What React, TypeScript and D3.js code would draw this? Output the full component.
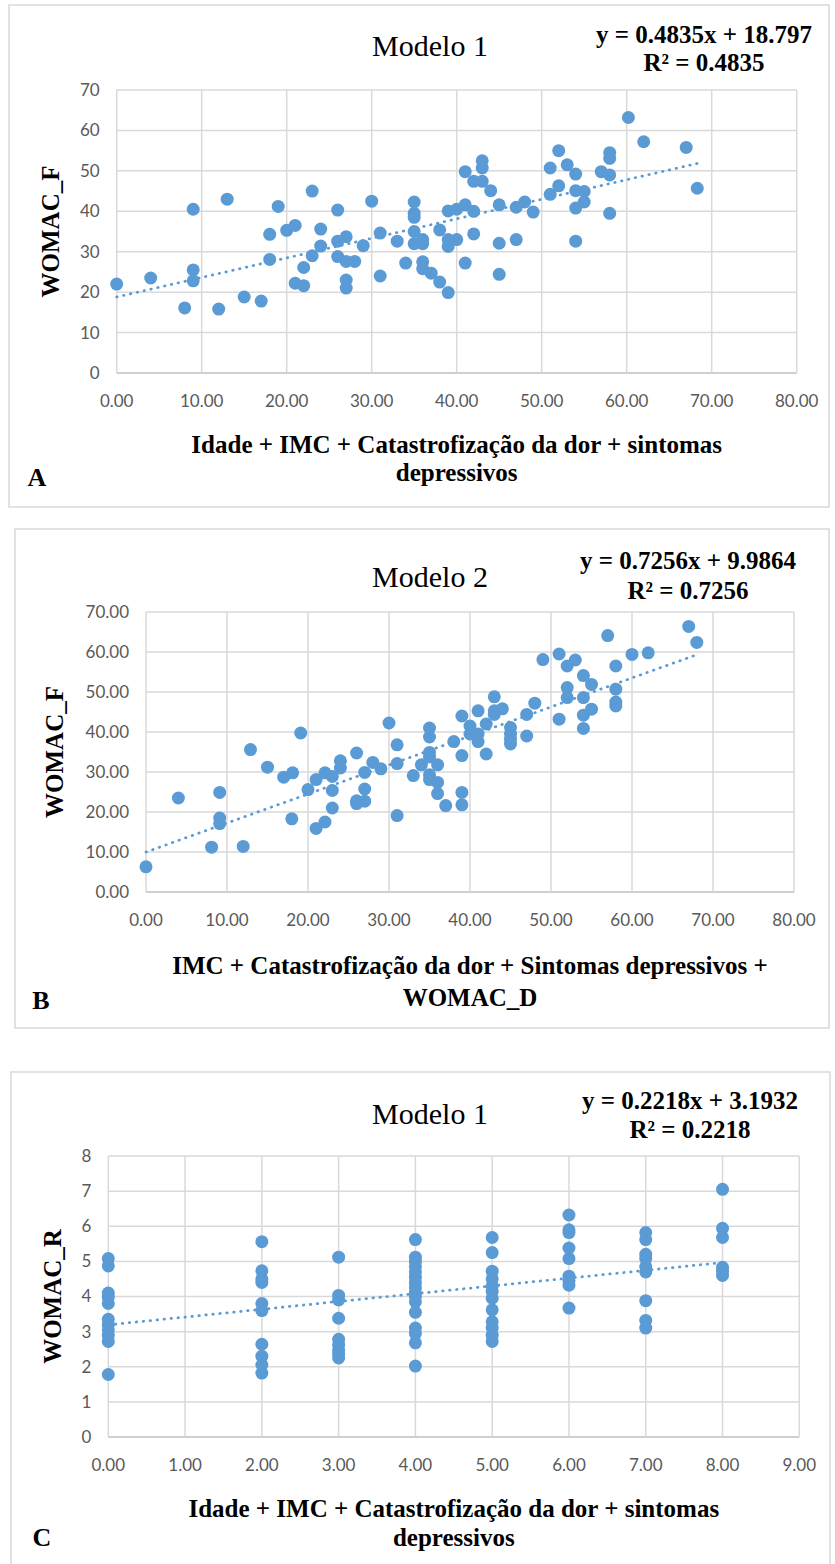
import React from "react";
import * as d3 from "d3";

// ---- data ----
// Panel A: Modelo 1, WOMAC_F
const pointsA = [
  [0, 22], [4, 23.5], [8, 16.1], [9, 40.5], [9, 25.5], [9, 22.8], [12, 15.8], [13, 43],
  [15, 18.8], [17, 17.8], [18, 34.3], [18, 28.1], [19, 41.2], [20, 35.3], [21, 36.5], [21, 22.2],
  [22, 21.6], [22, 26.1], [23, 45], [23, 29], [24, 35.6], [24, 31.4], [26, 40.3], [26, 32.6],
  [26, 28.8], [27, 33.7], [27, 27.6], [27, 23], [27, 21], [28, 27.6], [29, 31.5], [30, 42.5],
  [31, 34.6], [31, 24], [33, 32.6], [34, 27.2], [35, 42.3], [35, 39.5], [35, 38.5], [35, 35],
  [35, 32], [36, 33], [36, 32], [36, 27.5], [36, 25.8], [37, 24.7], [38, 35.4], [38, 22.5],
  [39, 19.9], [39, 40.1], [39, 33], [39, 31.3], [40, 33], [40, 40.5], [41, 49.8], [41, 41.6],
  [41, 27.2], [42, 47.4], [42, 40], [42, 34.4], [43, 52.5], [43, 50.7], [43, 47.4], [44, 45.1],
  [45, 41.6], [45, 32.1], [45, 24.4], [47, 41], [47, 33], [48, 42.3], [49, 39.8], [51, 50.7],
  [51, 44.2], [52, 55], [52, 46.3], [53, 51.5], [54, 49.2], [54, 45.1], [54, 40.8], [54, 32.6],
  [55, 44.9], [55, 42.3], [57, 49.8], [58, 54.5], [58, 53.1], [58, 49], [58, 39.5], [60.2, 63.2],
  [62, 57.2], [67, 55.8], [68.3, 45.7],
];

// Panel B: Modelo 2, WOMAC_F
const pointsB = [
  [0, 6.3], [4, 23.5], [9.1, 24.9], [9.1, 18.5], [9.1, 17.1], [8.1, 11.2], [12, 11.4], [12.9, 35.6],
  [15, 31.2], [17, 28.7], [18.1, 29.8], [18, 18.3], [19.1, 39.75], [20, 25.6], [21, 28.1], [21, 15.9],
  [22.1, 29.8], [22.1, 17.5], [23, 28.9], [23, 25.4], [23, 21], [24, 32.8], [24, 31], [26, 34.75],
  [26, 22.8], [26, 22.1], [27, 29.9], [27, 25.75], [27, 22.7], [28, 32.4], [29, 30.8], [30, 42.25],
  [31, 36.8], [31, 32.1], [31, 19.1], [33, 29.1], [34, 31.8], [35, 41], [35, 38.75], [35, 34.9],
  [35, 33.75], [35, 29.3], [35, 28.1], [36, 31.8], [36, 27.4], [36, 24.6], [37, 21.6], [39, 24.9],
  [39, 21.8], [38, 37.6], [39, 34.1], [39, 44], [40, 41.5], [40, 39.5], [41, 45.3], [41, 39.5],
  [41, 37.6], [42, 42], [42, 34.5], [43, 48.8], [43, 45.3], [43, 44.4], [44, 45.8], [45, 41.1],
  [45, 39.5], [45, 38.2], [45, 37], [47, 44.4], [47, 39], [48, 47.2], [49, 58.1], [51, 59.5],
  [51, 43.2], [52, 56.5], [53, 58], [52, 51.1], [52, 48.6], [54, 54.1], [54, 48.6], [54, 44.2],
  [54, 40.9], [55, 51.9], [55, 45.7], [57, 64.1], [58, 56.5], [58, 50.7], [58, 47.5], [58, 46.5],
  [60, 59.4], [62, 59.8], [67, 66.4], [68, 62.4],
];

// Panel C: Modelo 1, WOMAC_R
const pointsC = [
  [0, 5.08], [0, 4.87], [0, 4.1], [0, 3.98], [0, 3.8], [0, 3.35], [0, 3.2], [0, 3.05], [0, 2.9], [0, 2.72], [0, 1.78],
  [2, 5.56], [2, 4.73], [2, 4.5], [2, 4.4], [2, 3.8], [2, 3.6], [2, 2.64], [2, 2.3], [2, 2.05], [2, 1.82],
  [3, 5.12], [3, 4.03], [3, 3.9], [3, 3.38], [3, 2.78], [3, 2.62], [3, 2.47], [3, 2.35], [3, 2.25],
  [4, 5.62], [4, 5.12], [4, 5.0], [4, 4.85], [4, 4.7], [4, 4.55], [4, 4.4], [4, 4.25], [4, 4.1],
  [4, 4.0], [4, 3.85], [4, 3.55], [4, 3.1], [4, 2.95], [4, 2.68], [4, 2.02],
  [5, 5.68], [5, 5.25], [5, 4.72], [5, 4.5], [5, 4.3], [5, 4.15], [5, 3.95], [5, 3.62], [5, 3.28], [5, 3.1], [5, 2.9], [5, 2.72],
  [6, 6.32], [6, 5.9], [6, 5.82], [6, 5.38], [6, 5.08], [6, 4.58], [6, 4.45], [6, 4.32], [6, 3.67],
  [7, 5.82], [7, 5.62], [7, 5.2], [7, 5.08], [7, 4.85], [7, 4.7], [7, 3.88], [7, 3.32], [7, 3.1],
  [8, 7.05], [8, 5.94], [8, 5.68], [8, 4.83], [8, 4.72], [8, 4.6],
];

// trendlines (from the printed equations)
const trendA = { slope: 0.4835, intercept: 18.797, r2: 0.4835 };
const trendB = { slope: 0.7256, intercept: 9.9864, r2: 0.7256 };
const trendC = { slope: 0.2218, intercept: 3.1932, r2: 0.2218 };

const ticks80 = [0, 10, 20, 30, 40, 50, 60, 70, 80];
const ticks70 = [0, 10, 20, 30, 40, 50, 60, 70];
const ticks9 = [0, 1, 2, 3, 4, 5, 6, 7, 8, 9];
const ticks8 = [0, 1, 2, 3, 4, 5, 6, 7, 8];

const titles = ["Modelo 1", "Modelo 2", "Modelo 1"];
const yTitles = ["WOMAC_F", "WOMAC_F", "WOMAC_R"];
const xTitlesA = ["Idade + IMC + Catastrofização da dor + sintomas", "depressivos"];
const xTitlesB = ["IMC + Catastrofização da dor + Sintomas depressivos +", "WOMAC_D"];
const xTitlesC = ["Idade + IMC + Catastrofização da dor + sintomas", "depressivos"];
const letters = ["A", "B", "C"];

const BLUE = "#5B9BD5";
const GRID = "#D9D9D9";
const TICK = "#595959";
const SERIF = "'Liberation Serif', 'Times New Roman', serif";
const SANS = "Lato, 'Liberation Sans', sans-serif";

const f2 = d3.format(".2f");
const f0 = d3.format("d");

const panels = [
  {
    box: [9, 5, 820, 502], plot: [116.7, 796.7, 90, 373],
    xDomain: [0, 80], yDomain: [0, 70], xTicks: ticks80, yTicks: ticks70, yFmt: f0,
    points: pointsA, trend: trendA, title: titles[0], yTitle: yTitles[0], xTitle: xTitlesA,
    letter: letters[0], titleY: 45, eqX: 704, eqY: [34, 62], xtY: [444, 472], letterXY: [37, 477], ytX: 50,
  },
  {
    box: [15, 529, 814, 499], plot: [146, 794, 612, 892],
    xDomain: [0, 80], yDomain: [0, 70], xTicks: ticks80, yTicks: ticks70, yFmt: f2,
    points: pointsB, trend: trendB, title: titles[1], yTitle: yTitles[1], xTitle: xTitlesB,
    letter: letters[1], titleY: 576, eqX: 688, eqY: [560, 590], xtY: [965, 997], letterXY: [41, 1000], ytX: 54,
  },
  {
    box: [11, 1072, 819, 520], plot: [108.3, 799.3, 1156, 1437],
    xDomain: [0, 9], yDomain: [0, 8], xTicks: ticks9, yTicks: ticks8, yFmt: f0,
    points: pointsC, trend: trendC, title: titles[2], yTitle: yTitles[2], xTitle: xTitlesC,
    letter: letters[2], titleY: 1113, eqX: 690, eqY: [1100, 1129], xtY: [1508, 1537], letterXY: [42, 1537], ytX: 52,
  },
];

function Panel({ p }) {
  const [l, r, t, b] = p.plot;
  const x = d3.scaleLinear().domain(p.xDomain).range([l, r]);
  const y = d3.scaleLinear().domain(p.yDomain).range([b, t]);
  const [x0, x1] = d3.extent(p.points, (d) => d[0]);
  const line = d3
    .line()
    .x((d) => x(d))
    .y((d) => y(p.trend.slope * d + p.trend.intercept));
  const plotCx = (l + r) / 2;
  const plotCy = (t + b) / 2;

  return (
    <g>
      <rect x={p.box[0]} y={p.box[1]} width={p.box[2]} height={p.box[3]} fill="#fff" stroke={GRID} strokeWidth={1.5} />

      {/* grid */}
      {p.yTicks.map((v) => (
        <line key={"gy" + v} x1={l} x2={r} y1={y(v)} y2={y(v)} stroke={v === 0 ? "#BFBFBF" : GRID} strokeWidth={1.5} />
      ))}
      {p.xTicks.map((v) => (
        <line key={"gx" + v} x1={x(v)} x2={x(v)} y1={t} y2={b} stroke={GRID} strokeWidth={1.5} />
      ))}

      {/* tick labels */}
      {p.yTicks.map((v) => (
        <text key={"ty" + v} x={l - 17} y={y(v)} dy="0.35em" textAnchor="end" fontFamily={SANS} fontSize={17} fill={TICK}>
          {p.yFmt(v)}
        </text>
      ))}
      {p.xTicks.map((v) => (
        <text key={"tx" + v} x={x(v)} y={b + 28} dy="0.35em" textAnchor="middle" fontFamily={SANS} fontSize={17} fill={TICK}>
          {f2(v)}
        </text>
      ))}

      {/* points */}
      {p.points.map((d, i) => (
        <circle key={i} cx={x(d[0])} cy={y(d[1])} r={6.5} fill={BLUE} />
      ))}

      {/* trendline */}
      <path
        d={line([x0, x1])}
        fill="none"
        stroke={BLUE}
        strokeWidth={2.75}
        strokeDasharray="0.5 6.5"
        strokeLinecap="round"
      />

      {/* titles */}
      <text x={430} y={p.titleY} dy="0.35em" textAnchor="middle" fontFamily={SERIF} fontSize={30} fill="#000">
        {p.title}
      </text>
      <text x={p.eqX} y={p.eqY[0]} dy="0.35em" textAnchor="middle" fontFamily={SERIF} fontSize={25} fontWeight="bold">
        {`y = ${p.trend.slope}x + ${p.trend.intercept}`}
      </text>
      <text x={p.eqX} y={p.eqY[1]} dy="0.35em" textAnchor="middle" fontFamily={SERIF} fontSize={25} fontWeight="bold">
        {`R² = ${p.trend.r2}`}
      </text>

      <text
        transform={`translate(${p.ytX},${plotCy}) rotate(-90)`}
        dy="0.35em"
        textAnchor="middle"
        fontFamily={SERIF}
        fontSize={25}
        fontWeight="bold"
      >
        {p.yTitle}
      </text>

      {p.xTitle.map((s, i) => (
        <text key={"xt" + i} x={plotCx} y={p.xtY[i]} dy="0.35em" textAnchor="middle" fontFamily={SERIF} fontSize={25} fontWeight="bold">
          {s}
        </text>
      ))}
      <text x={p.letterXY[0]} y={p.letterXY[1]} dy="0.35em" textAnchor="middle" fontFamily={SERIF} fontSize={26} fontWeight="bold">
        {p.letter}
      </text>
    </g>
  );
}

export default function App() {
  return (
    <svg
      width={835}
      height={1564}
      style={{ position: "absolute", left: 0, top: 0, display: "block", background: "#fff" }}
    >
      <rect width={835} height={1564} fill="#fff" />
      {panels.map((p, i) => (
        <Panel key={i} p={p} />
      ))}
    </svg>
  );
}
